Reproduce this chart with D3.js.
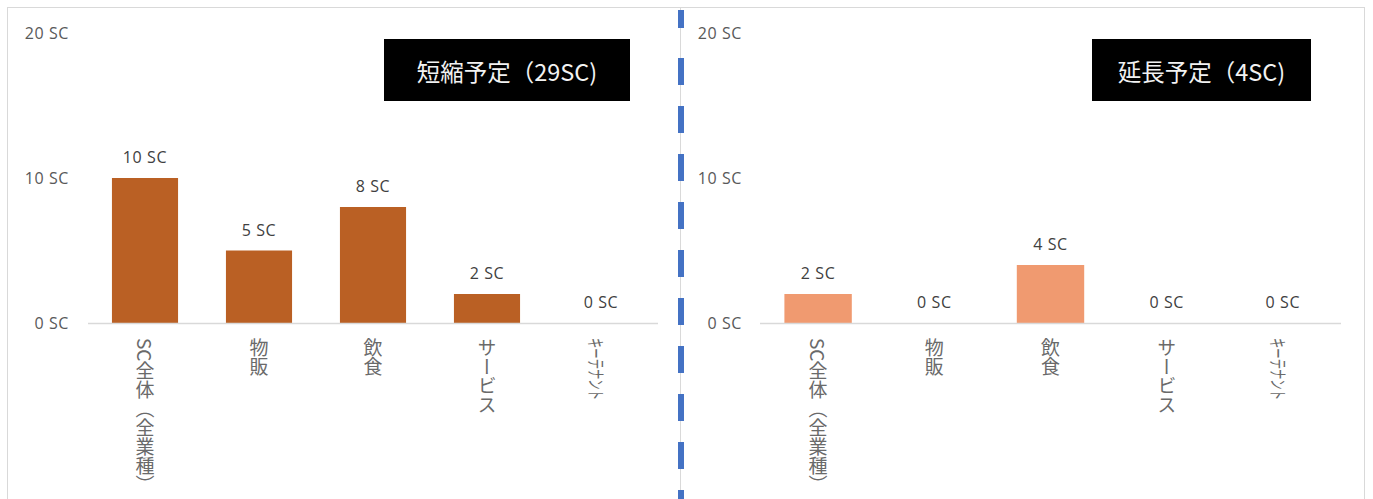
<!DOCTYPE html>
<html><head><meta charset="utf-8">
<script src="https://cdn.jsdelivr.net/npm/d3@7"></script>
<style>
html,body{margin:0;padding:0;background:#fff;overflow:hidden;}
text{font-family:"Noto Sans CJK JP","Noto Sans",sans-serif;}
.num{font-family:"Open Sans","Noto Sans CJK JP",sans-serif;}
</style></head>
<body><svg id="c" width="1373" height="499"></svg>
<script>
const categories = ["SC全体（全業種）", "物販", "飲食", "サービス", "キーテナント"];
const shortenValues = [10, 5, 8, 2, 0];
const extendValues = [2, 0, 4, 0, 0];
const yTicks = [0, 10, 20];
const titles = ["短縮予定（29SC)", "延長予定（4SC)"];
const colors = ["#ba6024", "#f09a70"];

const svg = d3.select("#c");

// panel frames
svg.append("rect").attr("x",7.5).attr("y",7.5).attr("width",673).attr("height",520)
  .attr("fill","none").attr("stroke","#d9d9d9").attr("stroke-width",1);
svg.append("rect").attr("x",680.5).attr("y",7.5).attr("width",684).attr("height",520)
  .attr("fill","none").attr("stroke","#d9d9d9").attr("stroke-width",1);

const panels = [
  {values: shortenValues, title: titles[0], color: colors[0], x0: 88, x1: 658, axisX: 69, box: [384, 39, 246, 62]},
  {values: extendValues, title: titles[1], color: colors[1], x0: 760, x1: 1341, axisX: 742, box: [1092, 39, 219, 62]}
];

const y = d3.scaleLinear().domain([0, 20]).range([323, 33]);

panels.forEach(p => {
  const g = svg.append("g");
  const x = d3.scaleBand().domain(categories).range([p.x0, p.x1]).paddingInner(0.42).paddingOuter(0.21);

  // y axis labels
  const ya = d3.axisLeft(y).tickValues(yTicks).tickSize(0).tickPadding(0).tickFormat(d => d + " SC");
  const yg = g.append("g").attr("transform", `translate(${p.axisX},0)`).call(ya);
  yg.select(".domain").remove();
  yg.selectAll("text").attr("class","num").attr("fill","#595959").style("font-size","16px")
    .style("letter-spacing","0.6px")
    .style("font-family",'"Open Sans","Noto Sans CJK JP",sans-serif');

  // bars
  g.selectAll("rect.bar").data(p.values).join("rect").attr("class","bar")
    .attr("x",(d,i)=>x(categories[i])).attr("width",x.bandwidth())
    .attr("y",d=>y(d)).attr("height",d=>y(0)-y(d)).attr("fill",p.color);

  // baseline
  g.append("line").attr("x1",p.x0).attr("x2",p.x1).attr("y1",y(0)+0.5).attr("y2",y(0)+0.5)
    .attr("stroke","#d9d9d9").attr("stroke-width",1.5);

  // data labels
  g.selectAll("text.dl").data(p.values).join("text").attr("class","dl num")
    .attr("x",(d,i)=>x(categories[i])+x.bandwidth()/2).attr("y",d=>y(d)-15)
    .attr("text-anchor","middle").attr("fill","#404040").style("font-size","16px")
    .style("letter-spacing","0.6px")
    .text(d=>d+" SC");

  // category labels (vertical)
  categories.forEach((c,i)=>{
    const cx = x(c)+x.bandwidth()/2;
    if (i === categories.length-1) {
      g.append("text").attr("transform",`translate(${cx-4},338) rotate(90)`)
        .attr("fill","#6a6a6a").style("font-size","18px")
        .attr("textLength",62).attr("lengthAdjust","spacingAndGlyphs")
        .attr("dominant-baseline","central").text(c);
    } else {
      g.append("text").attr("x",cx).attr("y",338)
        .style("writing-mode","vertical-rl").attr("fill","#6a6a6a").style("font-size","19px")
        .text(c);
    }
  });

  // title box
  g.append("rect").attr("x",p.box[0]).attr("y",p.box[1]).attr("width",p.box[2]).attr("height",p.box[3]).attr("fill","#000");
  g.append("text").attr("x",p.box[0]+p.box[2]/2).attr("y",p.box[1]+p.box[3]/2+1)
    .attr("text-anchor","middle").attr("dominant-baseline","central")
    .attr("fill","#f2f2f2").style("font-size","23.5px").text(p.title);
});

// blue dashed divider
svg.append("line").attr("x1",681).attr("x2",681).attr("y1",10).attr("y2",28)
  .attr("stroke","#4472c4").attr("stroke-width",6);
svg.append("line").attr("x1",681).attr("x2",681).attr("y1",58).attr("y2",499)
  .attr("stroke","#4472c4").attr("stroke-width",6).attr("stroke-dasharray","27 21");
</script></body></html>
